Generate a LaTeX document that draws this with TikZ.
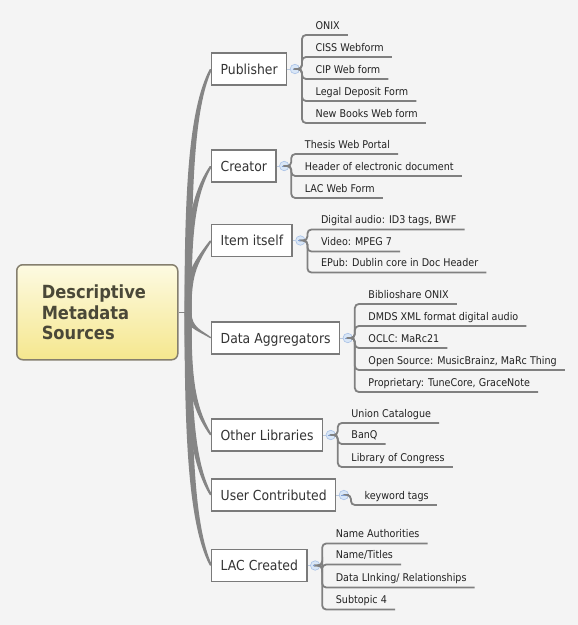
\documentclass[tikz,border=0pt]{standalone}
\usepackage{fontspec}
\newfontfamily\mmfont[FakeStretch=0.9]{DejaVu Sans}
\usetikzlibrary{calc}
\pgfdeclarelayer{background}
\pgfsetlayers{background,main}
\definecolor{bgcol}{HTML}{F4F4F4}
\definecolor{branchcol}{HTML}{858585}
\definecolor{boxborder}{HTML}{7A7A7A}
\definecolor{linecol}{HTML}{808080}
\definecolor{leaftext}{HTML}{222222}
\definecolor{branchtext}{HTML}{333333}
\definecolor{roottext}{HTML}{4A4838}
\definecolor{rootborder}{HTML}{857F6E}
\definecolor{roottop}{HTML}{FDFAE2}
\definecolor{rootbot}{HTML}{F5E78E}
\definecolor{togglefill}{HTML}{D8E6F7}
\definecolor{toggleborder}{HTML}{A9C1E6}
\definecolor{toggleminus}{HTML}{7E9FD6}
\definecolor{stubcol}{HTML}{B8C8DE}
\newcommand\mmbranch[4]{%
  \fill[branchcol] ($(hub)+(-3.5,0)$) .. controls ($(hub)+(-3.5,#2)$) and ($(#1.west)+(-#4-2.5,#3)$) .. ($(#1.west)+(-1.2,0)$)
    -- ($(#1.west)+(1.2,0)$) .. controls ($(#1.west)+(-#4+2.5,#3)$) and ($(hub)+(3.5,#2)$) .. ($(hub)+(3.5,0)$) -- cycle;}
\newcommand\mmleaf[4]{%
  \node[leaf] (#2) at ($(#1.east)+(28,#3-6)$) {#4};
  \draw[leafline] (#1t.east) -- ++(2,0) |- ($(#2.base east)+(8,6)$);}
\newcommand\mmtoggle[1]{%
  \node[toggle] (#1t) at ($(#1.east)+(7.5,0)$) {};
  \draw[stub] (#1.east) -- (#1t);}
\begin{document}
\begin{tikzpicture}[x=1pt,y=-1pt,
  root/.style={draw=rootborder, line width=1.5pt, rounded corners=6pt,
    top color=roottop, bottom color=rootbot, minimum width=161pt, minimum height=95pt,
    text width=111pt, inner xsep=25pt, align=left, anchor=north west,
    font=\mmfont\bfseries\fontsize{18.1}{20.5}\selectfont, text=roottext},
  branch/.style={draw=boxborder, line width=1.4pt, fill=white, minimum height=32pt,
    inner xsep=9pt, text height=10.5pt, text depth=0.5pt, anchor=west,
    font=\mmfont\fontsize{13.8}{16}\selectfont, text=branchtext},
  leaf/.style={inner sep=0pt, anchor=base west, font=\mmfont\fontsize{10.65}{12}\selectfont, text=leaftext},
  leafline/.style={draw=linecol, line width=1.8pt, rounded corners=4pt},
  stub/.style={draw=stubcol, line width=1pt},
  toggle/.style={circle, minimum size=9.5pt, inner sep=0pt, fill=togglefill, draw=toggleborder, line width=0.6pt,
    path picture={\draw[toggleminus, line width=0.7pt] ([xshift=-2.4pt]path picture bounding box.center) -- ([xshift=2.4pt]path picture bounding box.center);}}
]
\useasboundingbox (0,0) rectangle (578,625);

\node[root] (root) at (16,264) {Descriptive\\Metadata\\Sources};
\coordinate (hub) at ($(root.east)+(9.5,0)$);

\node[branch] (pub) at (211,69) {Publisher};
\node[branch] (cre) at (211,166) {Creator};
\node[branch] (item) at (211,240.5) {Item itself};
\node[branch] (data) at (211,338) {Data Aggregators};
\node[branch] (other) at (211,435) {Other Libraries};
\node[branch] (user) at (211,495) {User Contributed};
\node[branch] (lac) at (211,565.5) {LAC Created};

\begin{pgfonlayer}{background}
  \fill[bgcol] (0,0) rectangle (578,625);
  \draw[branchcol, line width=1.3pt] (root.east) -- ($(hub)+(-3,0)$);
  \mmbranch{pub}{-120}{40}{20}
  \mmbranch{cre}{-73}{32}{20}
  \mmbranch{item}{-36}{25}{18}
  \mmbranch{data}{15}{-8}{12}
  \mmbranch{other}{60}{-30}{20}
  \mmbranch{user}{90}{-35}{20}
  \mmbranch{lac}{125}{-40}{20}
\end{pgfonlayer}

\mmtoggle{pub}
\mmleaf{pub}{p1}{-34}{ONIX}
\mmleaf{pub}{p2}{-12}{CISS Webform}
\mmleaf{pub}{p3}{10}{CIP Web form}
\mmleaf{pub}{p4}{32}{Legal Deposit Form}
\mmleaf{pub}{p5}{54}{New Books Web form}

\mmtoggle{cre}
\mmleaf{cre}{c1}{-12}{Thesis Web Portal}
\mmleaf{cre}{c2}{10}{Header of electronic document}
\mmleaf{cre}{c3}{32}{LAC Web Form}

\mmtoggle{item}
\mmleaf{item}{i1}{-11}{Digital audio: ID3 tags, BWF}
\mmleaf{item}{i2}{11}{Video: MPEG 7}
\mmleaf{item}{i3}{32}{EPub: Dublin core in Doc Header}

\mmtoggle{data}
\mmleaf{data}{d1}{-34}{Biblioshare ONIX}
\mmleaf{data}{d2}{-12}{DMDS XML format digital audio}
\mmleaf{data}{d3}{10}{OCLC: MaRc21}
\mmleaf{data}{d4}{32}{Open Source: MusicBrainz, MaRc Thing}
\mmleaf{data}{d5}{54}{Proprietary: TuneCore, GraceNote}

\mmtoggle{other}
\mmleaf{other}{o1}{-12}{Union Catalogue}
\mmleaf{other}{o2}{9}{BanQ}
\mmleaf{other}{o3}{32}{Library of Congress}

\mmtoggle{user}
\mmleaf{user}{u1}{10}{keyword tags}

\mmtoggle{lac}
\mmleaf{lac}{l1}{-22}{Name Authorities}
\mmleaf{lac}{l2}{-1}{Name/Titles}
\mmleaf{lac}{l3}{22}{Data LInking/ Relationships}
\mmleaf{lac}{l4}{44}{Subtopic 4}
\end{tikzpicture}
\end{document}
